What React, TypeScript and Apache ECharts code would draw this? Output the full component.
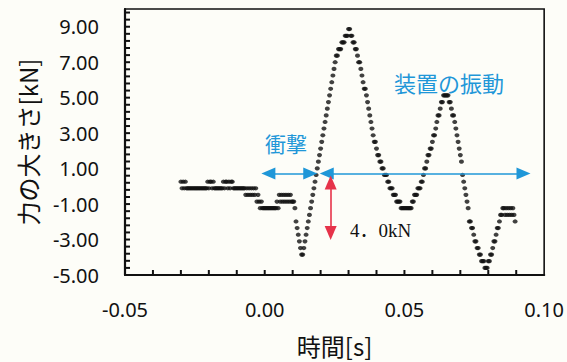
import React, { useEffect, useRef } from "react";
import * as echarts from "echarts";

// sampling of the record: first sample time and sample step [s]
const T0 = -0.03;
const DT = 0.0004;

// force [kN], one value per sample
const forceBeforeImpact = [
  0.26, -0.11, 0.26, -0.11, 0.26, -0.11, -0.11,
  -0.11, -0.11, -0.11, -0.11, -0.11, -0.11, -0.11, -0.11, -0.11, -0.11, -0.11, -0.11, -0.11, -0.11, -0.11, -0.11, -0.11,
  0.26, -0.11, 0.26, 0.26, -0.11, 0.26,
  -0.11, -0.11, -0.11, -0.11, -0.11, -0.11, -0.11, -0.11,
  0.26, -0.11, 0.26, 0.26, -0.11, 0.26, -0.11, 0.26, 0.26,
  -0.11, -0.11, -0.11, -0.11, -0.11, -0.11, -0.11, -0.11, -0.11, -0.11, -0.11,
  -0.48, -0.11, -0.48, -0.11, -0.48, -0.11, -0.48, -0.11, -0.48, -0.11,
  -0.86, -0.48, -0.86, -1.23, -0.86,
  -1.23, -1.23, -1.23, -1.23, -1.23, -1.23, -1.23, -1.23, -1.23, -1.23, -1.23, -1.23, -1.23,
  -0.86, -1.23, -0.48, -0.86, -0.48, -0.86, -0.48, -0.86, -0.48, -0.86, -0.48, -0.86, -0.48, -0.86, -0.86, -0.86, -1.23,
];

const forceImpact = [
  -1.98, -2.35, -2.73, -3.1, -3.48, -3.85, -3.85, -3.48, -3.1, -2.73,
  -2.35, -1.98, -1.61, -1.23, -0.86, -0.48, -0.11, 0.26, 0.64, 1.01,
  1.39, 1.76, 2.13, 2.51, 2.88, 3.26, 3.63, 4.0, 4.38, 4.75,
  5.13, 5.5, 5.87, 6.25, 6.62, 7.0, 7.37, 7.37, 7.74, 7.74,
  7.74, 8.12, 8.12, 8.12, 8.49, 8.49, 8.49, 8.87, 8.87, 8.49,
];

const forceVibration = [
  8.49, 8.12, 8.12, 7.74, 7.74, 7.37, 7.0, 7.0, 6.62, 6.25,
  5.87, 5.5, 5.5, 5.13, 4.75, 4.38, 4.0, 3.63, 3.26, 2.88,
  2.51, 2.51, 2.13, 1.76, 1.76, 1.39, 1.39, 1.01, 1.01, 0.64,
  0.64, 0.64, 0.26, 0.26, -0.11, -0.11, -0.11, -0.48, -0.48, -0.48,
  -0.86, -0.86, -0.86, -0.86, -1.23, -1.23, -1.23, -1.23, -1.23, -1.23,
  -1.23, -1.23, -1.23, -1.23, -0.86, -0.86, -0.48, -0.48, -0.48, -0.11,
  -0.11, -0.11, 0.26, 0.26, 0.64, 1.01, 1.01, 1.39, 1.76, 1.76,
  2.13, 2.13, 2.51, 2.88, 2.88, 3.26, 3.63, 4.0, 4.0, 4.38,
  4.75, 4.75, 5.13, 5.13, 5.13, 5.13, 5.13, 4.75, 4.75, 4.38,
  4.0, 4.0, 3.63, 3.26, 2.88, 2.51, 2.13, 1.76, 1.39, 0.64,
  0.26, -0.11, -0.48, -0.86, -1.23, -1.98, -1.98, -2.35, -2.35, -2.73,
  -3.1, -3.1, -3.48, -3.48, -3.85, -3.85, -4.22, -4.22, -4.22, -4.6,
  -4.6, -4.6, -4.22, -4.22, -3.85, -3.85, -3.48, -3.1, -3.1, -2.73,
  -2.35, -2.35, -1.98, -1.61, -1.61, -1.23, -1.23, -1.61, -1.23, -1.61,
  -1.23, -1.61, -1.23, -1.61, -1.23, -1.61, -1.98,
];

// axis labels (major ticks)
const xTicks = [-0.05, 0.0, 0.05, 0.1];
const yTicks = [-5, -3, -1, 1, 3, 5, 7, 9];
const Y_MAX = 10;

// tick marks along the axes (major + minor)
const xTickMarks = [
  -0.04, -0.03, -0.02, -0.01, 0.0, 0.01, 0.02, 0.03, 0.04, 0.05, 0.06, 0.07, 0.08, 0.09,
];
const yTickMarks = [
  -4.6, -4.2, -3.8, -3.4, -3, -2.6, -2.2, -1.8, -1.4, -1, -0.6, -0.2, 0.2, 0.6, 1, 1.4, 1.8,
  2.2, 2.6, 3, 3.4, 3.8, 4.2, 4.6, 5, 5.4, 5.8, 6.2, 6.6, 7, 7.4, 7.8, 8.2, 8.6, 9, 9.4, 9.8,
];

// annotation arrows (data coordinates of the shaft ends)
const impactArrow = [[0.0013, 0.73], [0.0163, 0.73]];
const vibrationArrow = [[0.0222, 0.73], [0.0926, 0.73]];
const amplitudeArrow = [[0.0236, 0.22], [0.0236, -2.63]];

const BG = "#fdfdf8";
const BLUE = "#1f97d8";
const RED = "#e6334a";
const INK = "#111111";
const TICK_LEN = 5;

export default function App() {
  const ref = useRef<HTMLDivElement>(null);

  useEffect(() => {
    document.body.style.margin = "0";
    document.body.style.background = BG;
    const chart = echarts.init(ref.current!, null, { renderer: "svg" });

    const values = [...forceBeforeImpact, ...forceImpact, ...forceVibration];
    const points = values.map((v, i) => [Number((T0 + i * DT).toFixed(4)), v]);

    const xMin = xTicks[0];
    const xMax = xTicks[xTicks.length - 1];
    const yMin = yTicks[0];
    const xInterval = Number((xTicks[1] - xTicks[0]).toFixed(4));
    const yInterval = yTicks[1] - yTicks[0];

    const option: any = {
      animation: false,
      backgroundColor: BG,
      grid: {
        left: 125,
        right: 18,
        top: 9,
        bottom: 84,
        show: true,
        borderColor: INK,
        borderWidth: 1.6,
        backgroundColor: "transparent",
      },
      xAxis: {
        type: "value",
        min: xMin,
        max: xMax,
        interval: xInterval,
        name: "時間[s]",
        nameLocation: "middle",
        nameGap: 58,
        nameTextStyle: { fontSize: 24, fontFamily: "Noto Sans CJK JP", color: INK },
        axisLine: { show: true, onZero: false, lineStyle: { color: INK, width: 2.2 } },
        axisTick: { show: false },
        splitLine: { show: false },
        axisLabel: {
          margin: 24,
          fontSize: 20,
          fontFamily: "Noto Sans",
          color: INK,
          formatter: (v: number) => v.toFixed(2),
        },
      },
      yAxis: {
        type: "value",
        min: yMin,
        max: Y_MAX,
        interval: yInterval,
        name: "力の大きさ[kN]",
        nameLocation: "middle",
        nameGap: 86,
        nameTextStyle: { fontSize: 24, fontFamily: "Noto Sans CJK JP", color: INK },
        axisLine: { show: true, onZero: false, lineStyle: { color: INK, width: 2.2 } },
        axisTick: { show: false },
        splitLine: { show: false },
        axisLabel: {
          margin: 26,
          fontSize: 20,
          fontFamily: "Noto Sans",
          color: INK,
          showMaxLabel: false,
          formatter: (v: number) => (v >= Y_MAX ? "" : v.toFixed(2)),
        },
      },
      series: [
        {
          type: "scatter",
          name: "force",
          data: points,
          symbol: "circle",
          symbolSize: [5, 4.2],
          itemStyle: { color: INK },
          silent: true,
          z: 3,
          markLine: {
            silent: true,
            animation: false,
            symbol: ["triangle", "triangle"],
            symbolSize: [12, 14],
            label: { show: false },
            emphasis: { disabled: true },
            lineStyle: { type: "solid", width: 1.6 },
            data: [
              [
                { coord: impactArrow[0], lineStyle: { color: BLUE, type: "solid", width: 1.6 }, itemStyle: { color: BLUE } },
                { coord: impactArrow[1] },
              ],
              [
                { coord: vibrationArrow[0], lineStyle: { color: BLUE, type: "solid", width: 1.6 }, itemStyle: { color: BLUE } },
                { coord: vibrationArrow[1] },
              ],
              [
                { coord: amplitudeArrow[0], lineStyle: { color: RED, type: "solid", width: 1.6 }, itemStyle: { color: RED } },
                { coord: amplitudeArrow[1] },
              ],
            ],
          },
        },
      ],
    };

    chart.setOption(option);

    // tick marks placed through the chart's own coordinate conversion
    const xTickLines = xTickMarks.map((t) => {
      const p = chart.convertToPixel({ gridIndex: 0 }, [t, yMin]) as number[];
      return {
        type: "line",
        silent: true,
        z: 20,
        shape: { x1: p[0], y1: p[1], x2: p[0], y2: p[1] - TICK_LEN },
        style: { stroke: INK, lineWidth: 2 },
      };
    });
    const yTickLines = yTickMarks.map((v) => {
      const p = chart.convertToPixel({ gridIndex: 0 }, [xMin, v]) as number[];
      return {
        type: "line",
        silent: true,
        z: 20,
        shape: { x1: p[0], y1: p[1], x2: p[0] + TICK_LEN, y2: p[1] },
        style: { stroke: INK, lineWidth: 2 },
      };
    });

    chart.setOption({
      graphic: [
        ...xTickLines,
        ...yTickLines,
        {
          type: "text",
          x: 265,
          y: 143,
          silent: true,
          style: {
            text: "衝撃",
            fontSize: 21,
            fontFamily: "Noto Sans CJK JP",
            fill: BLUE,
            verticalAlign: "middle",
          },
        },
        {
          type: "text",
          x: 394,
          y: 82,
          silent: true,
          style: {
            text: "装置の振動",
            fontSize: 22,
            fontFamily: "Noto Sans CJK JP",
            fill: BLUE,
            verticalAlign: "middle",
          },
        },
        {
          type: "text",
          x: 350,
          y: 230,
          silent: true,
          style: {
            text: "4．0kN",
            fontSize: 19,
            fontFamily: "Liberation Serif, Noto Sans CJK JP",
            fill: INK,
            verticalAlign: "middle",
          },
        },
      ],
    });

    return () => chart.dispose();
  }, []);

  return <div ref={ref} style={{ width: 567, height: 362, background: BG }} />;
}
